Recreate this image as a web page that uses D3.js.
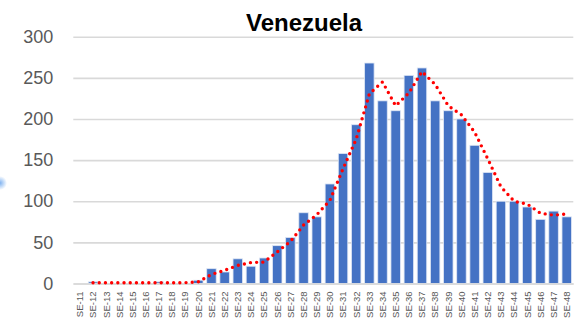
<!DOCTYPE html>
<html>
<head>
<meta charset="utf-8">
<script src="https://cdn.jsdelivr.net/npm/d3@7"></script>
<style>
  html, body { margin: 0; padding: 0; background: #fff; }
  svg { display: block; }
</style>
</head>
<body>
<svg id="chart" width="577" height="324"></svg>
<script>
const categories = ["SE-11","SE-12","SE-13","SE-14","SE-15","SE-16","SE-17","SE-18","SE-19","SE-20",
  "SE-21","SE-22","SE-23","SE-24","SE-25","SE-26","SE-27","SE-28","SE-29","SE-30",
  "SE-31","SE-32","SE-33","SE-34","SE-35","SE-36","SE-37","SE-38","SE-39","SE-40",
  "SE-41","SE-42","SE-43","SE-44","SE-45","SE-46","SE-47","SE-48"];
const cases = [0,2,0,0,0,0,2,0,0,4,
  18,14,30,21,31,46,56,86,81,121,
  158,193,268,222,210,253,262,222,210,200,
  168,135,100,100,93,78,88,81];
// 2-period moving-average trendline (starts at SE-12)
const trendCategories = categories.slice(1);
const trend = [1,1,1,1,1,1,1,1,2,
  11,16,22,25.5,26,38.5,51,71,83.5,101,
  139.5,175.5,230.5,245,216,231.5,257.5,242,216,205,
  184,151.5,117.5,100,96.5,85.5,83,84.5];
const yTicks = [0,50,100,150,200,250,300];
const title = "Venezuela";

const svg = d3.select("#chart");
const mLeft = 73.3, mRight = 573.3, mTop = 36.7, mBottom = 283.5;

const x = d3.scaleBand().domain(categories).range([mLeft, mRight]).paddingInner(0.28).paddingOuter(0.14);
const y = d3.scaleLinear().domain([0, 300]).range([mBottom, mTop]);

// selection handle artifact at left edge
const defs = svg.append("defs");
const rg = defs.append("radialGradient").attr("id", "handle");
rg.append("stop").attr("offset", "0%").attr("stop-color", "#7fb2f0");
rg.append("stop").attr("offset", "100%").attr("stop-color", "#7fb2f0").attr("stop-opacity", 0);
svg.append("circle").attr("cx", 0).attr("cy", 183).attr("r", 7).attr("fill", "url(#handle)");

// title
svg.append("text")
  .attr("x", 304).attr("y", 31)
  .attr("text-anchor", "middle")
  .attr("font-family", "Liberation Sans, Arial, sans-serif")
  .attr("font-weight", "bold")
  .attr("font-size", 24)
  .attr("fill", "#000")
  .text(title);

// y axis: gridlines + labels
const yAxis = d3.axisLeft(y).tickValues(yTicks).tickSize(-(mRight - mLeft)).tickPadding(20);
const gy = svg.append("g").attr("transform", `translate(${mLeft},0)`).call(yAxis);
gy.select(".domain").remove();
gy.selectAll(".tick line").attr("stroke", "#d9d9d9").attr("stroke-width", 1.6);
gy.selectAll(".tick text")
  .attr("font-family", "Liberation Sans, Arial, sans-serif")
  .attr("font-size", 18)
  .attr("fill", "#595959");

// bars
svg.append("g").selectAll("rect")
  .data(categories.map((c, i) => ({c, v: cases[i]})))
  .join("rect")
  .attr("x", d => x(d.c))
  .attr("y", d => y(d.v))
  .attr("width", x.bandwidth())
  .attr("height", d => y(0) - y(d.v))
  .attr("fill", "#4472C4")
  .attr("stroke", "#dfe7f5")
  .attr("stroke-width", 0.8);

// x axis
const xAxis = d3.axisBottom(x).tickSize(0).tickPadding(0);
const gx = svg.append("g").attr("transform", `translate(0,${mBottom})`).call(xAxis);
gx.select(".domain").attr("stroke", "#d9d9d9").attr("stroke-width", 1.6);
gx.selectAll(".tick text")
  .attr("font-family", "Liberation Sans, Arial, sans-serif")
  .attr("font-size", 9.5)
  .attr("fill", "#595959")
  .attr("text-anchor", "end")
  .attr("transform", "translate(0,8) rotate(-90)")
  .attr("x", 0).attr("y", 0)
  .attr("dy", "0.35em");

// trendline
const line = d3.line()
  .x((d, i) => x(trendCategories[i]) + x.bandwidth() / 2)
  .y(d => y(d));
svg.append("path")
  .datum(trend)
  .attr("d", line)
  .attr("fill", "none")
  .attr("stroke", "#ff0000")
  .attr("stroke-width", 3.4)
  .attr("stroke-linecap", "round")
  .attr("stroke-dasharray", "0 6.2");
</script>
</body>
</html>
